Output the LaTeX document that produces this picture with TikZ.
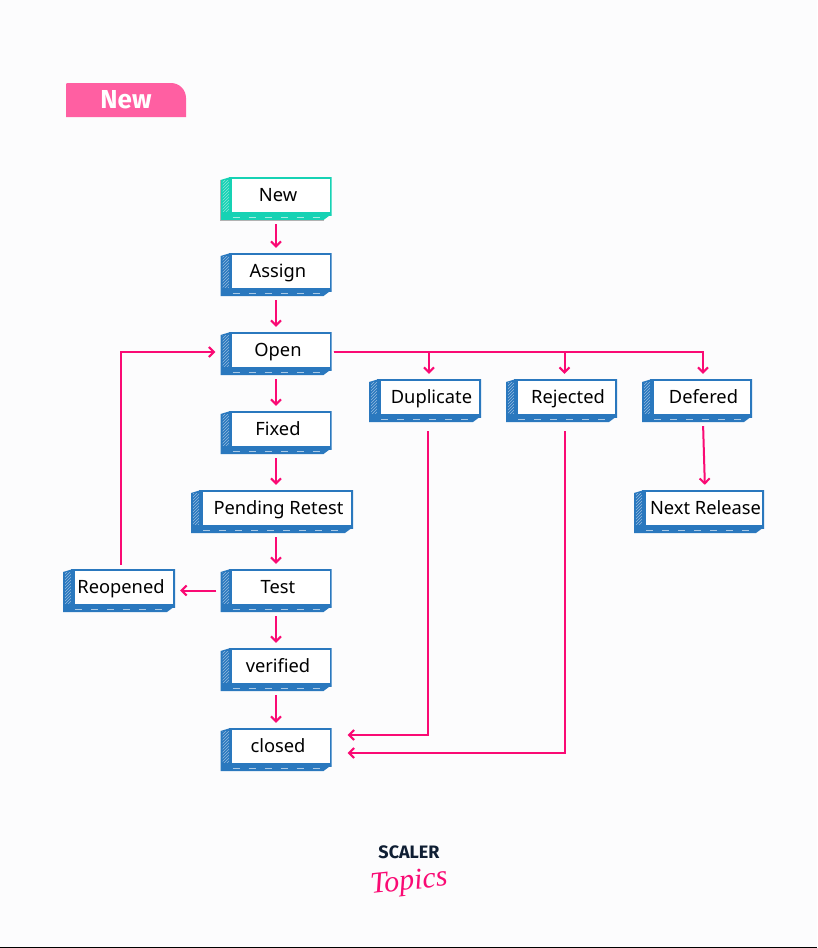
\documentclass[tikz,border=0pt]{standalone}
\usepackage{fontspec}
\setmainfont{Noto Sans}
\newfontfamily\logofont{Liberation Serif}
\newfontfamily\headfont{Fira Sans}
\usetikzlibrary{arrows.meta,patterns}

\definecolor{pagegrey}{HTML}{FCFCFD}
\definecolor{tabpink}{HTML}{FF5FA2}
\definecolor{linkpink}{HTML}{FA0A74}
\definecolor{stageblue}{HTML}{2A78BE}
\definecolor{stageteal}{HTML}{16D2B4}
\definecolor{logonavy}{HTML}{0F1E33}

\begin{document}
\begin{tikzpicture}[
    x=1pt, y=-1pt,
    box colour/.store in=\boxcolour,
    box colour=stageblue,
    stage/.style={anchor=center, inner xsep=0pt, inner ysep=0pt, font=\fontsize{18.3}{20}\selectfont,
        minimum width=#1pt, text height=24pt, text depth=19pt,
        execute at begin node=\hspace*{4pt},
        path picture={
            \fill[\boxcolour] ([xshift=10pt]path picture bounding box.north west)
                -- ([yshift=-3pt]path picture bounding box.north west)
                -- (path picture bounding box.south west)
                -- ([xshift=-8pt]path picture bounding box.south east)
                -- ([yshift=6pt]path picture bounding box.south east) -- cycle;
            \path[pattern=north east lines, pattern color=white!50!\boxcolour]
                ([xshift=9pt,yshift=-3pt]path picture bounding box.north west)
                rectangle ([xshift=2pt,yshift=9pt]path picture bounding box.south west);
            \draw[white!60!\boxcolour, line width=.6pt, dash pattern=on 7pt off 9pt]
                ([xshift=12pt,yshift=3pt]path picture bounding box.south west)
                -- ([xshift=-10pt,yshift=3pt]path picture bounding box.south east);
            \draw[\boxcolour, fill=white, line width=3.6pt]
                ([xshift=10pt]path picture bounding box.north west)
                rectangle ([yshift=6pt]path picture bounding box.south east);
        }},
    stage/.default=111,
    wide/.style={execute at begin node=\hspace*{9pt}},
    arrow/.style={-{Straight Barb[length=5pt,width=10pt]}, linkpink, line width=2pt, shorten >=5pt, shorten <=4pt}
    ]

% Page and heading tab
\fill[pagegrey] (0,0) rectangle (817,948);
\fill[black] (0,946.5) rectangle (817,948);
\fill[tabpink, rounded corners=1pt] (66,117) -- (66,83) -- (120,83)
    [rounded corners=15pt] -- (186,83) [rounded corners=0pt] -- (186,117) -- cycle;
\node[text=white, font=\headfont\fontsize{26}{30}\selectfont\bfseries] (tab) at (126,100) {New};

% Main column
\node[stage, box colour=stageteal] (new) at (276,198.5) {New};
\node[stage] (assign) at (276,274.5) {Assign};
\node[stage] (open) at (276,353.5) {Open};
\node[stage] (fixed) at (276,432.5) {Fixed};
\node[stage=162, wide] (pending) at (272,511.5) {Pending Retest};
\node[stage] (test) at (276,590.5) {Test};
\node[stage] (verified) at (276,669.5) {verified};
\node[stage] (closed) at (276,749.5) {closed};

% Side stages
\node[stage=112] (reopened) at (119,590.5) {Reopened};
\node[stage=112, wide] (duplicate) at (425,400.5) {Duplicate};
\node[stage=111, wide] (rejected) at (561.5,400.5) {Rejected};
\node[stage=110, wide] (defered) at (697,400.5) {Defered};
\node[stage=130, wide] (next) at (699,511.5) {Next Release};

% Shadow of the first stage
\draw[black!30, line width=1pt] ([yshift=-3pt]new.north west) -- (new.south west) -- ([xshift=-8pt]new.south east);

% Arrows down the main column
\draw[arrow] (new) -- (new |- assign.north);
\draw[arrow] (assign.south) -- (open.north);
\draw[arrow] (open.south) -- (fixed.north);
\draw[arrow] (fixed.south) -- (fixed |- pending.north);
\draw[arrow] (test |- pending.south) -- (test.north);
\draw[arrow] (test.south) -- (verified.north);
\draw[arrow] (verified.south) -- (closed.north);

% Arrows for the reopen loop
\draw[arrow] (test.west) -- (reopened.east);
\draw[arrow] ([xshift=2pt]reopened.north) |- ([yshift=1.5pt]open.west);

% Arrows out of Open
\draw[arrow, shorten <=2pt] ([yshift=1.5pt]open.east) -| ([xshift=4pt]duplicate.north);
\draw[arrow, shorten <=2pt] ([yshift=1.5pt]open.east) -| ([xshift=3pt]rejected.north);
\draw[arrow, shorten <=2pt] ([yshift=1.5pt]open.east) -| ([xshift=6pt]defered.north);
\draw[arrow] ([xshift=6pt]defered.south) -- ([xshift=6pt]next.north);

% Arrows into closed
\draw[arrow, shorten >=16pt, shorten <=9pt] ([xshift=3pt]duplicate.south) |- ([yshift=14.5pt]closed.east);
\draw[arrow, shorten >=16pt, shorten <=9pt] ([xshift=3.5pt]rejected.south) |- ([yshift=-3.5pt]closed.east);

% Logo
\node[text=logonavy, font=\headfont\fontsize{18}{20}\selectfont\bfseries, inner sep=0pt] (scaler) at (409,852) {SCALER};
\node[text=linkpink, font=\logofont\itshape\fontsize{30}{30}\selectfont, rotate=6, inner sep=0pt] (topics) at (409,883) {Topics};

\end{tikzpicture}
\end{document}
